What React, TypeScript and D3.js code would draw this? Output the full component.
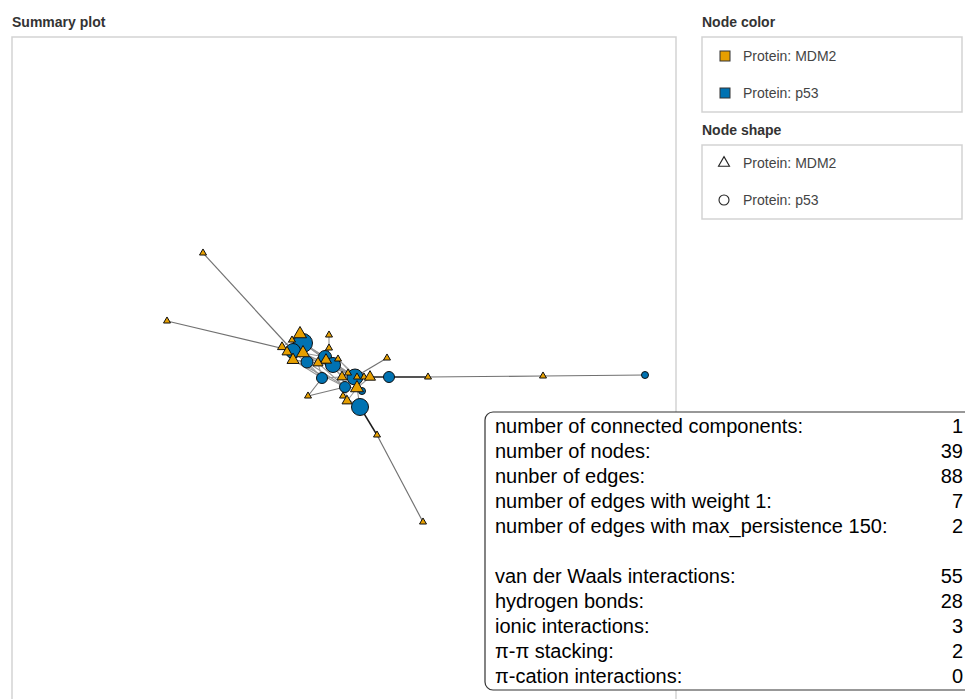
import React from "react";
import * as d3 from "d3";

// ---------- data ----------
const nodeProtein = [
  "MDM2", "MDM2", "MDM2", "p53", "p53", "MDM2", "MDM2", "MDM2", "MDM2", "MDM2",
  "p53", "MDM2", "MDM2", "p53", "MDM2", "MDM2", "p53", "MDM2", "MDM2", "p53",
  "MDM2", "MDM2", "p53", "MDM2", "MDM2", "MDM2", "p53", "p53", "MDM2", "p53",
  "MDM2", "MDM2", "MDM2", "p53", "MDM2", "MDM2", "MDM2", "p53", "MDM2",
];
// layout coordinates (plot units)
const nodeX = [
  191, 155, 288, 291, 281, 280, 270, 275, 291, 281,
  295, 317, 317, 313, 314, 306, 321, 326, 375, 310,
  330, 336, 343, 345, 352, 358, 377, 333, 345, 350,
  296, 331, 335, 348, 365, 416, 531, 633, 411,
];
const nodeY = [
  216, 284, 297, 306, 314, 303, 310, 315, 316, 323,
  325, 298, 311, 320, 323, 326, 328, 322, 321, 341,
  340, 336, 340, 340, 340, 340, 340, 350, 351, 354,
  359, 359, 364, 370, 398, 340, 339, 338, 485,
];
const nodeSize = [
  3.5, 3.5, 6.5, 9.5, 7.5, 3.5, 4.5, 5, 6.5, 6,
  6, 3.5, 3.5, 6.5, 5.5, 5, 7.5, 3.5, 3.5, 5.5,
  5, 3.5, 8, 3.5, 3.5, 5.5, 5.5, 5.5, 6.5, 3.5,
  3.5, 3.5, 5, 8.5, 3.5, 3.5, 3.5, 3.5, 3.5,
];

// edges (1-based node numbers)
const edgeSource = [
  3, 3, 4, 4, 4, 5, 5, 5, 5, 5, 9, 10, 4, 7, 8, 6,
  4, 4, 9, 11, 9, 5, 10, 11, 4,
  12, 13, 13, 14, 14, 15, 14, 15, 17, 16, 15,
  16, 17, 17, 17, 14, 18, 15, 16, 17, 18,
  5, 10, 11, 5, 9, 11, 10, 4,
  20, 21, 22, 23, 23, 23, 24, 25, 23, 21, 28, 29, 23, 28, 28, 29, 32, 33, 29, 21, 22, 25, 26,
  1, 2, 19, 31, 31, 34, 35, 26, 27, 36, 37,
];
const edgeTarget = [
  4, 6, 6, 9, 11, 7, 8, 10, 6, 9, 11, 11, 5, 8, 10, 7,
  14, 15, 16, 16, 14, 17, 16, 17, 17,
  13, 14, 15, 15, 16, 16, 17, 17, 18, 17, 18,
  20, 21, 22, 23, 23, 23, 21, 28, 24, 24,
  20, 20, 20, 23, 23, 28, 28, 23,
  21, 22, 23, 24, 25, 26, 25, 26, 29, 28, 29, 30, 30, 32, 33, 33, 34, 34, 34, 23, 24, 29, 29,
  5, 5, 23, 20, 28, 35, 39, 27, 36, 37, 38,
];
const edgeWeight = [
  0.35, 0.3, 0.3, 0.4, 0.35, 0.3, 0.3, 0.35, 0.25, 0.35, 0.3, 0.3, 0.4, 0.25, 0.3, 0.25,
  0.3, 0.3, 0.3, 0.3, 0.3, 0.3, 0.3, 0.3, 0.3,
  0.35, 0.3, 0.3, 0.3, 0.3, 0.3, 0.35, 0.3, 0.3, 0.3, 0.25,
  0.3, 0.3, 0.3, 0.35, 0.3, 0.3, 0.3, 0.3, 0.3, 0.3,
  0.3, 0.3, 0.3, 0.3, 0.3, 0.3, 0.3, 0.3,
  0.3, 0.3, 0.35, 0.3, 0.3, 0.4, 0.3, 0.3, 0.35, 0.3, 0.3, 0.3, 0.3, 0.3, 0.3, 0.3, 0.3, 0.3, 0.35, 0.3, 0.3, 0.3, 0.3,
  0.5, 0.5, 0.5, 0.45, 0.45, 0.95, 0.5, 0.95, 0.95, 0.5, 0.5,
];

const legendColorLabels = ["Protein: MDM2", "Protein: p53"];
const legendShapeLabels = ["Protein: MDM2", "Protein: p53"];
const proteins = ["MDM2", "p53"];
const proteinColors = ["#E69F00", "#0072B2"];

const infoLabels = [
  "number of connected components:",
  "number of nodes:",
  "nunber of edges:",
  "number of edges with weight 1:",
  "number of edges with max_persistence 150:",
  "",
  "van der Waals interactions:",
  "hydrogen bonds:",
  "ionic interactions:",
  "\u03c0-\u03c0 stacking:",
  "\u03c0-cation interactions:",
];
const infoValues = ["1", "39", "88", "7", "2", "", "55", "28", "3", "2", "0"];

// ---------- component ----------
const FONT = "'Liberation Sans', Arial, Helvetica, sans-serif";

export default function App() {
  const W = 965;
  const H = 699;
  const panel = { x: 12, y: 37, w: 664 };

  const xScale = d3.scaleLinear().domain([0, panel.w]).range([panel.x, panel.x + panel.w]);
  const yScale = d3.scaleLinear().domain([0, 700]).range([panel.y, panel.y + 700]);
  const color = d3.scaleOrdinal<string, string>().domain(proteins).range(proteinColors);
  const edgeColor = d3.scaleLinear<string>().domain([0, 1]).range(["#d0d0d0", "#111111"]);
  const edgeWidth = d3.scaleLinear().domain([0, 1]).range([0.8, 1.5]);
  const rScale = d3.scaleLinear().domain([0, 10]).range([0, 10]);
  const tri = (r: number) => {
    const side = 2 * r;
    return d3.symbol().type(d3.symbolTriangle).size((Math.sqrt(3) / 4) * side * side)() as string;
  };

  const nodes = nodeX.map((x, i) => ({
    i,
    x: xScale(x),
    y: yScale(nodeY[i]),
    protein: nodeProtein[i],
    r: rScale(nodeSize[i]),
  }));
  const edges = edgeSource.map((s, i) => ({
    s: nodes[s - 1],
    t: nodes[edgeTarget[i] - 1],
    w: edgeWeight[i],
  }));

  const circles = nodes.filter((n) => n.protein === "p53");
  const triangles = nodes.filter((n) => n.protein === "MDM2");

  const legendX = 702;
  const legendW = 260;
  const rowY = d3.scalePoint<number>().domain([0, 1]).range([0, 37]);
  const infoRow = d3.scaleLinear().domain([0, 1]).range([433, 458]);

  return (
    <svg
      width={W}
      height={H}
      style={{ position: "absolute", left: 0, top: 0, background: "#fff", fontFamily: FONT }}
    >
      {/* Panel title */}
      <text x={12} y={27} fontSize={14} fontWeight="bold" fill="#333">
        Summary plot
      </text>
      <rect x={panel.x} y={panel.y} width={panel.w} height={H + 20} fill="none" stroke="#d3d3d3" strokeWidth={1.5} />

      {/* edges */}
      <g>
        {edges.map((e, i) => (
          <line
            key={i}
            x1={e.s.x}
            y1={e.s.y}
            x2={e.t.x}
            y2={e.t.y}
            stroke={edgeColor(e.w)}
            strokeWidth={edgeWidth(e.w)}
          />
        ))}
      </g>
      {/* nodes */}
      <g>
        {circles.map((n) => (
          <circle key={n.i} cx={n.x} cy={n.y} r={n.r} fill={color(n.protein)} stroke="#111" strokeWidth={1} />
        ))}
        {triangles.map((n) => (
          <path
            key={n.i}
            d={tri(n.r)}
            transform={`translate(${n.x},${n.y})`}
            fill={color(n.protein)}
            stroke="#111"
            strokeWidth={1}
          />
        ))}
      </g>

      {/* Legend: node color */}
      <text x={legendX} y={27} fontSize={14} fontWeight="bold" fill="#333">
        Node color
      </text>
      <rect x={legendX} y={37} width={legendW} height={75} fill="#fff" stroke="#d3d3d3" strokeWidth={1.5} />
      {legendColorLabels.map((lab, i) => (
        <g key={lab} transform={`translate(0,${56 + rowY(i)!})`}>
          <rect x={720} y={-5} width={10} height={10} fill={proteinColors[i]} stroke="#333" strokeWidth={1} />
          <text x={743} y={5} fontSize={14} fill="#444">
            {lab}
          </text>
        </g>
      ))}

      {/* Legend: node shape */}
      <text x={legendX} y={135} fontSize={14} fontWeight="bold" fill="#333">
        Node shape
      </text>
      <rect x={legendX} y={145} width={legendW} height={74} fill="#fff" stroke="#d3d3d3" strokeWidth={1.5} />
      {legendShapeLabels.map((lab, i) => (
        <g key={lab + "s"} transform={`translate(0,${163 + rowY(i)!})`}>
          {i === 0 ? (
            <path d={tri(5.5)} transform="translate(724,0)" fill="none" stroke="#222" strokeWidth={1.1} />
          ) : (
            <circle cx={724} cy={0} r={5} fill="none" stroke="#222" strokeWidth={1.1} />
          )}
          <text x={743} y={5} fontSize={14} fill="#444">
            {lab}
          </text>
        </g>
      ))}

      {/* Info box */}
      <rect x={485} y={412} width={520} height={278} rx={8} ry={8} fill="#fff" stroke="#333" strokeWidth={1.2} />
      {infoLabels.map((lab, i) => (
        <g key={i}>
          <text x={495} y={infoRow(i)} fontSize={20} fill="#000">
            {lab}
          </text>
          <text x={963} y={infoRow(i)} fontSize={20} fill="#000" textAnchor="end">
            {infoValues[i]}
          </text>
        </g>
      ))}
    </svg>
  );
}
